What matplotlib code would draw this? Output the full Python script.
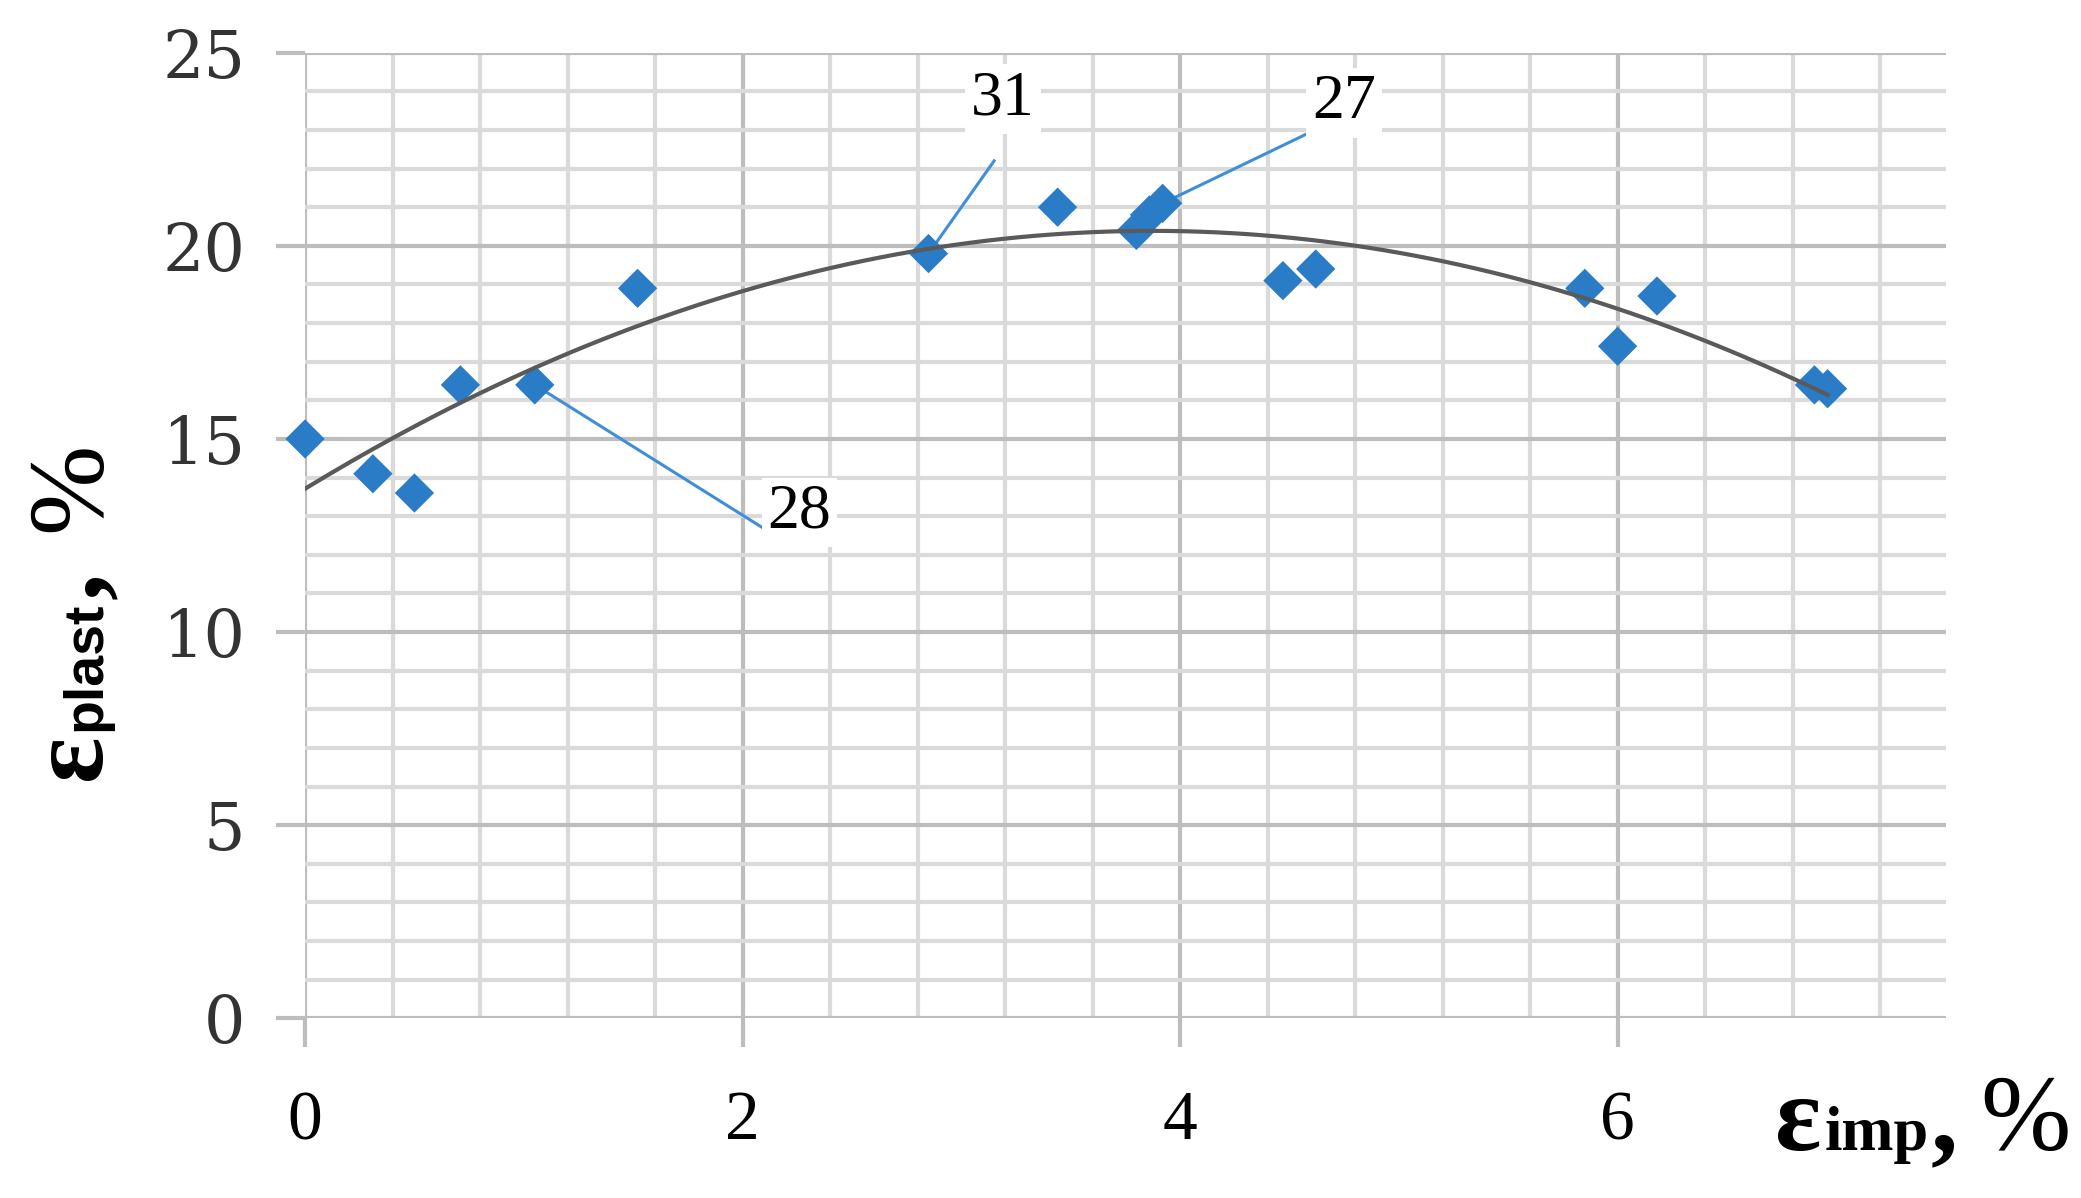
import numpy as np
import matplotlib
matplotlib.use("Agg")
import matplotlib.pyplot as plt
from matplotlib.ticker import MultipleLocator
from matplotlib.transforms import IdentityTransform

eps_imp = [0.0, 0.31, 0.50, 0.71, 1.05, 1.52, 2.85, 3.44, 3.80, 3.86, 3.92,
           4.47, 4.62, 5.85, 6.00, 6.18, 6.90, 6.96]
eps_plast = [15.0, 14.1, 13.6, 16.4, 16.4, 18.9, 19.8, 21.0, 20.4, 20.8, 21.1,
             19.1, 19.4, 18.9, 17.4, 18.7, 16.4, 16.3]

# numbered call-outs: label, point index, label position
labels = ["31", "27", "28"]
label_pts = [6, 10, 4]
label_xy = [(3.19, 23.8), (4.75, 23.7), (2.26, 13.1)]
line_end = [(3.15, 22.2), (4.58, 22.9), (2.12, 12.6)]

plt.rcParams['font.family'] = ['Liberation Serif', 'DejaVu Serif']

fig = plt.figure(figsize=(20.81, 11.98), dpi=100)
ax = fig.add_axes([0.1466, 0.150, 0.7884, 0.806])

ax.scatter(eps_imp, eps_plast, marker='D', s=20**2, color='#2a7cc7',
           edgecolors='none', zorder=3, clip_on=False)

# second order trend line (like the spreadsheet one)
coef = np.polyfit(eps_imp, eps_plast, 2)
xt = np.linspace(0, max(eps_imp), 200)
ax.plot(xt, np.polyval(coef, xt), color='#5a5a5a', lw=3, zorder=4)

for lab, i, (tx, ty), (lx, ly) in zip(labels, label_pts, label_xy, line_end):
    ax.plot([eps_imp[i], lx], [eps_plast[i], ly], color='#3f8fd8', lw=2.2, zorder=2.5)
    ax.text(tx, ty, lab, fontsize=46, ha='center', va='center', zorder=5,
            bbox=dict(facecolor='white', edgecolor='none', pad=4))

ax.set_xlim(0, 7.5)
ax.set_ylim(0, 25)
ax.xaxis.set_major_locator(MultipleLocator(2))
ax.xaxis.set_minor_locator(MultipleLocator(0.4))
ax.yaxis.set_major_locator(MultipleLocator(5))
ax.yaxis.set_minor_locator(MultipleLocator(1))

ax.grid(which='major', color='#bdbdbd', lw=3)
ax.grid(which='minor', color='#dadada', lw=3)
ax.set_axisbelow(True)
for s in ax.spines.values():
    s.set_visible(False)

ax.tick_params(which='major', length=21, width=3, color='#bdbdbd')
ax.tick_params(axis='x', which='major', pad=31, labelsize=50)
ax.tick_params(axis='y', which='major', pad=22, labelsize=47)
ax.tick_params(which='minor', length=0)
for t in ax.get_yticklabels():
    t.set_fontfamily('DejaVu Serif')
    t.set_color('#333333')

# axis titles: big epsilon, smaller index on the same baseline
renderer = fig.canvas.get_renderer()


def chain(pieces, x, y, rot):
    for txt, size, fam, wt, gap in pieces:
        t = fig.text(x, y, txt, fontsize=size, family=fam, weight=wt,
                     rotation=rot, rotation_mode='anchor', ha='left',
                     va='baseline', transform=IdentityTransform())
        bb = t.get_window_extent(renderer)
        if rot == 0:
            x += bb.width + gap
        else:
            y += bb.height + gap


serif = ['Liberation Serif', 'DejaVu Serif']
chain([('ε', 78, serif, 'bold', 3),
       ('imp', 45, serif, 'bold', 2),
       (',', 78, serif, 'bold', 22),
       ('%', 78, serif, 'normal', 0)], 1775, 48, 0)
chain([('ε', 78, serif, 'bold', 3),
       ('plast', 40, ['Liberation Sans', 'DejaVu Sans'], 'bold', 2),
       (',', 78, serif, 'bold', 40),
       ('%', 78, serif, 'normal', 0)], 100, 418, 90)

fig.savefig('out.png', dpi=100)
